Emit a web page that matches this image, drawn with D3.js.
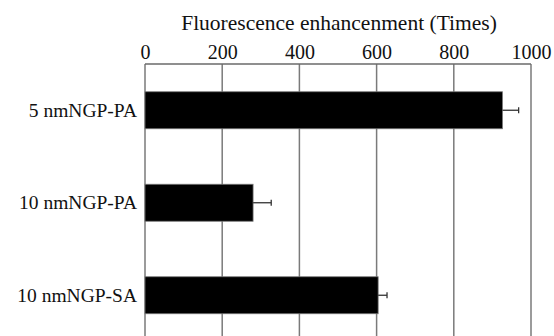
<!DOCTYPE html>
<html>
<head>
<meta charset="utf-8">
<script src="https://cdn.jsdelivr.net/npm/d3@7"></script>
<style>
  body { margin: 0; background: #fff; }
  svg text { font-family: 'Liberation Serif', 'DejaVu Serif', Times, serif !important; fill: #111; }
</style>
</head>
<body>
<svg id="chart" width="554" height="336"></svg>
<script>
// data
var categories = ["5 nmNGP-PA", "10 nmNGP-PA", "10 nmNGP-SA"];
var values = [926, 280, 604];
var errors = [42, 47, 23];
var tickValues = [0, 200, 400, 600, 800, 1000];

var svg = d3.select("#chart"),
  MARGINS = { top: 64, left: 145, right: 23 },
  WIDTH = 554,
  PLOT_BOTTOM = 341.5;

var xScale = d3.scaleLinear().domain([0, 1000]).range([MARGINS.left, WIDTH - MARGINS.right]);
var yScale = d3.scaleBand().domain(categories).range([MARGINS.top, PLOT_BOTTOM]).paddingInner(0.6).paddingOuter(0.3);

// gridlines
svg.append("g")
  .selectAll("line")
  .data(tickValues)
  .join("line")
  .attr("x1", d => xScale(d)).attr("x2", d => xScale(d))
  .attr("y1", MARGINS.top).attr("y2", 336)
  .attr("stroke", "#7a7a7a")
  .attr("stroke-width", 1.5);

// top axis line
svg.append("line")
  .attr("x1", xScale(0)).attr("x2", xScale(1000))
  .attr("y1", MARGINS.top).attr("y2", MARGINS.top)
  .attr("stroke", "#6a6a6a")
  .attr("stroke-width", 1.5);

// top axis labels
var xAxis = d3.axisTop(xScale).tickValues(tickValues).tickFormat(d3.format("d")).tickSize(0).tickPadding(5);
var gx = svg.append("g")
  .attr("transform", "translate(0," + MARGINS.top + ")")
  .call(xAxis)
  .attr("font-family", null)
  .attr("font-size", null);
gx.select(".domain").remove();
gx.selectAll("text")
  .style("font-size", "20px")
  .attr("fill", "#111");

// title
svg.append("text")
  .attr("x", 339)
  .attr("y", 30)
  .attr("text-anchor", "middle")
  .style("font-size", "21.5px")
  .text("Fluorescence enhancenment (Times)");

// bars
svg.append("g")
  .selectAll("rect")
  .data(values)
  .join("rect")
  .attr("x", xScale(0))
  .attr("y", (d, i) => yScale(categories[i]))
  .attr("width", d => xScale(d) - xScale(0))
  .attr("height", yScale.bandwidth())
  .attr("fill", "#000")
  .attr("stroke", "#777")
  .attr("stroke-width", 0.8);

// error bars
var eb = svg.append("g").attr("stroke", "#333").attr("stroke-width", 1.3);
values.forEach(function (v, i) {
  var cy = yScale(categories[i]) + yScale.bandwidth() / 2;
  eb.append("line")
    .attr("x1", xScale(v)).attr("x2", xScale(v + errors[i]))
    .attr("y1", cy).attr("y2", cy);
  eb.append("line")
    .attr("x1", xScale(v + errors[i])).attr("x2", xScale(v + errors[i]))
    .attr("y1", cy - 3).attr("y2", cy + 3);
});

// category labels
var yAxis = d3.axisLeft(yScale).tickSize(0).tickPadding(8);
var gy = svg.append("g")
  .attr("transform", "translate(" + MARGINS.left + ",0)")
  .call(yAxis)
  .attr("font-family", null)
  .attr("font-size", null);
gy.select(".domain").remove();
gy.selectAll("text")
  .style("font-size", "19.5px")
  .attr("fill", "#111");
</script>
</body>
</html>
